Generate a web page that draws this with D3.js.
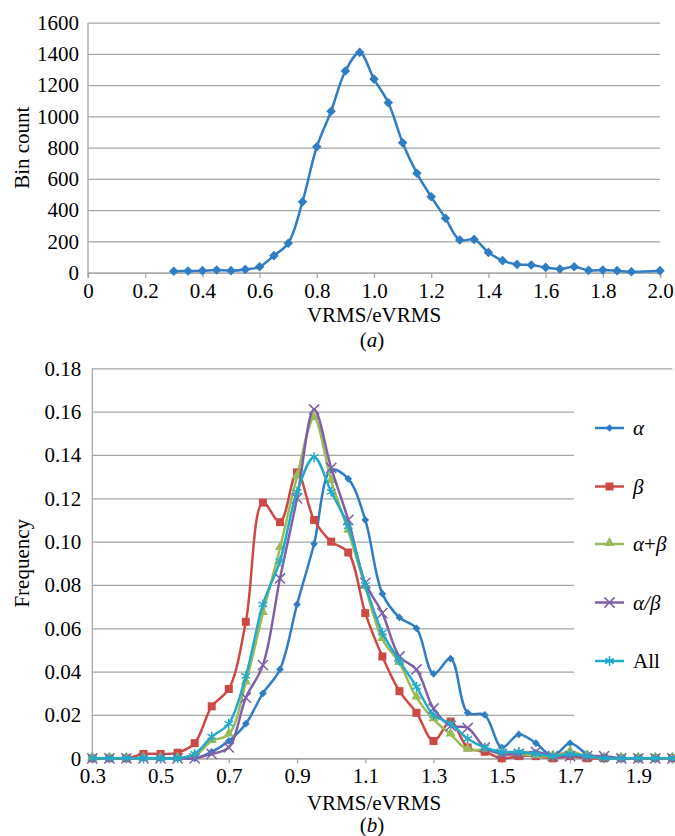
<!DOCTYPE html>
<html>
<head>
<meta charset="utf-8">
<script src="https://cdn.jsdelivr.net/npm/d3@7"></script>
<style>
  body { margin: 0; background: #fff; }
  text { font-family: "Liberation Serif", "Times New Roman", serif; fill: #000; }
</style>
</head>
<body>
<svg id="chart"></svg>
<script>
// ---- data: panel (a) ----
const binX = [0.3, 0.35, 0.4, 0.45, 0.5, 0.55, 0.6, 0.65, 0.7, 0.75, 0.8, 0.85, 0.9, 0.95, 1.0, 1.05, 1.1,
  1.15, 1.2, 1.25, 1.3, 1.35, 1.4, 1.45, 1.5, 1.55, 1.6, 1.65, 1.7, 1.75, 1.8, 1.85, 1.9, 2.0];
const binCount = [9, 11, 13, 17, 13, 21, 38, 109, 188, 454, 806, 1033, 1291, 1410, 1239, 1088, 832,
  636, 486, 348, 209, 213, 130, 77, 53, 49, 34, 23, 38, 15, 17, 13, 6, 13];
const topXTicks = [0, 0.2, 0.4, 0.6, 0.8, 1.0, 1.2, 1.4, 1.6, 1.8, 2.0];
const topXLabels = ["0", "0.2", "0.4", "0.6", "0.8", "1.0", "1.2", "1.4", "1.6", "1.8", "2.0"];
const topYTicks = [0, 200, 400, 600, 800, 1000, 1200, 1400, 1600];

// ---- data: panel (b) ----
const categories = [0.3, 0.35, 0.4, 0.45, 0.5, 0.55, 0.6, 0.65, 0.7, 0.75, 0.8, 0.85, 0.9, 0.95, 1.0,
  1.05, 1.1, 1.15, 1.2, 1.25, 1.3, 1.35, 1.4, 1.45, 1.5, 1.55, 1.6, 1.65, 1.7, 1.75, 1.8, 1.85, 1.9, 1.95, 2.0];
const alpha = [0, 0, 0, 0, 0, 0, 0, 0.003, 0.008, 0.016, 0.030, 0.041, 0.071, 0.099, 0.133,
  0.129, 0.110, 0.076, 0.065, 0.060, 0.039, 0.046, 0.021, 0.020, 0.005, 0.011, 0.007, 0.001, 0.007, 0.002, 0, 0, 0, 0, 0];
const beta = [0, 0, 0, 0.002, 0.002, 0.0026, 0.007, 0.024, 0.032, 0.063, 0.118, 0.109, 0.132, 0.110, 0.100,
  0.095, 0.067, 0.047, 0.031, 0.021, 0.008, 0.017, 0.005, 0.003, 0, 0.001, 0.001, 0, 0.001, 0, 0, 0, 0, 0, 0];
const alphaPlusBeta = [0, 0, 0, 0, 0, 0, 0.001, 0.008, 0.011, 0.035, 0.067, 0.097, 0.130, 0.157, 0.128,
  0.105, 0.079, 0.055, 0.044, 0.028, 0.018, 0.011, 0.004, 0.004, 0.002, 0.002, 0.001, 0.001, 0.003, 0.001, 0, 0, 0, 0, 0];
const alphaOverBeta = [0, 0, 0, 0, 0, 0, 0, 0.002, 0.005, 0.028, 0.043, 0.083, 0.120, 0.161, 0.134,
  0.110, 0.081, 0.067, 0.047, 0.041, 0.023, 0.015, 0.014, 0.005, 0.002, 0.002, 0.003, 0.001, 0.001, 0.001, 0.001, 0, 0, 0, 0];
const allSeries = [0, 0, 0, 0, 0, 0, 0.002, 0.010, 0.016, 0.038, 0.071, 0.091, 0.123, 0.139, 0.123,
  0.107, 0.080, 0.058, 0.045, 0.033, 0.020, 0.016, 0.009, 0.005, 0.003, 0.003, 0.002, 0.001, 0.002, 0.001, 0, 0, 0, 0, 0];
const botXTicks = [0.3, 0.5, 0.7, 0.9, 1.1, 1.3, 1.5, 1.7, 1.9];
const botXLabels = ["0.3", "0.5", "0.7", "0.9", "1.1", "1.3", "1.5", "1.7", "1.9"];
const botYTicks = [0, 0.02, 0.04, 0.06, 0.08, 0.10, 0.12, 0.14, 0.16, 0.18];
const botYLabels = ["0", "0.02", "0.04", "0.06", "0.08", "0.10", "0.12", "0.14", "0.16", "0.18"];

const seriesNames = ["α", "β", "α+β", "α/β", "All"];

const width = 675, height = 836;
const gridColor = "#a6a6a6";
const fontSize = 21;

const svg = d3.select("#chart").attr("width", width).attr("height", height);

const curve = d3.curveCatmullRom.alpha(0.5);

const marker = (type, size) => d3.symbol().type(type).size(size)();

// =============================== //
// -->        Panel (a)       <--  //
// =============================== //

const xA = d3.scaleLinear().domain([0, 2]).range([88, 660]);
const yA = d3.scaleLinear().domain([0, 1600]).range([272.7, 22.7]);

const gA = svg.append("g");

gA.append("g")
  .attr("transform", `translate(${xA(0)},0)`)
  .call(d3.axisLeft(yA).tickValues(topYTicks).tickSize(xA(0) - xA(2)).tickPadding(9).tickFormat(d3.format("d")))
  .call((g) => g.select(".domain").remove())
  .call((g) => g.selectAll(".tick line").attr("stroke", gridColor).attr("stroke-width", 1.3))
  .call((g) => g.selectAll(".tick text").attr("x", -9).attr("font-size", fontSize).style("font-family", "Liberation Serif"));

gA.append("line")
  .attr("x1", xA(0)).attr("x2", xA(0)).attr("y1", yA(1600)).attr("y2", yA(0) + 5)
  .attr("stroke", gridColor).attr("stroke-width", 1.3);

gA.append("g")
  .attr("transform", `translate(0,${yA(0)})`)
  .call(d3.axisBottom(xA).tickValues(topXTicks).tickSize(5).tickPadding(5)
    .tickFormat((d, i) => topXLabels[i]))
  .call((g) => g.select(".domain").attr("stroke", gridColor).attr("stroke-width", 1.3))
  .call((g) => g.selectAll(".tick line").attr("stroke", gridColor).attr("stroke-width", 1.3))
  .call((g) => g.selectAll(".tick text").attr("font-size", fontSize).style("font-family", "Liberation Serif"));

const blue = "#2f7ec3";

gA.append("path")
  .datum(binX.map((d, i) => [d, binCount[i]]))
  .attr("d", d3.line().x((d) => xA(d[0])).y((d) => yA(d[1])).curve(curve))
  .attr("fill", "none")
  .attr("stroke", blue)
  .attr("stroke-width", 2.5);

// diamond = square turned 45deg
gA.selectAll("path.pt")
  .data(binX.map((d, i) => [d, binCount[i]]))
  .join("path")
  .attr("class", "pt")
  .attr("d", marker(d3.symbolSquare, 46))
  .attr("fill", blue)
  .attr("transform", (d) => `translate(${xA(d[0])},${yA(d[1])}) rotate(45)`);

gA.append("text")
  .attr("transform", `translate(24,${(yA(0) + yA(1600)) / 2}) rotate(-90)`)
  .attr("text-anchor", "middle")
  .attr("dominant-baseline", "middle")
  .attr("font-size", fontSize)
  .text("Bin count");

gA.append("text")
  .attr("x", 374).attr("y", 322)
  .attr("text-anchor", "middle")
  .attr("font-size", fontSize)
  .text("VRMS/eVRMS");

const capA = gA.append("text").attr("x", 372).attr("y", 347).attr("text-anchor", "middle").attr("font-size", fontSize);
capA.append("tspan").text("(");
capA.append("tspan").attr("font-style", "italic").text("a");
capA.append("tspan").text(")");

// =============================== //
// -->        Panel (b)       <--  //
// =============================== //

const xB = d3.scaleLinear().domain([0.3, 2.0]).range([92.3, 672.4]);
const yB = d3.scaleLinear().domain([0, 0.18]).range([758.3, 368.3]);

const gB = svg.append("g");

gB.append("g")
  .attr("transform", `translate(${xB(0.3)},0)`)
  .call(d3.axisLeft(yB).tickValues(botYTicks).tickSize(xB(0.3) - xB(2.0)).tickPadding(9)
    .tickFormat((d, i) => botYLabels[i]))
  .call((g) => g.select(".domain").remove())
  .call((g) => g.selectAll(".tick line").attr("stroke", gridColor).attr("stroke-width", 1.3))
  .call((g) => g.selectAll(".tick text").attr("x", -11).attr("font-size", fontSize).style("font-family", "Liberation Serif"));

gB.append("line")
  .attr("x1", xB(0.3)).attr("x2", xB(0.3)).attr("y1", yB(0.18)).attr("y2", yB(0))
  .attr("stroke", gridColor).attr("stroke-width", 1.3);

gB.append("g")
  .attr("transform", `translate(0,${yB(0)})`)
  .call(d3.axisBottom(xB).tickValues(botXTicks).tickSize(5).tickPadding(5)
    .tickFormat((d, i) => botXLabels[i]))
  .call((g) => g.select(".domain").attr("stroke", gridColor).attr("stroke-width", 1.3))
  .call((g) => g.selectAll(".tick line").attr("stroke", gridColor).attr("stroke-width", 1.3))
  .call((g) => g.selectAll(".tick text").attr("font-size", fontSize).style("font-family", "Liberation Serif"));

// legend box sits over the grid
gB.append("rect")
  .attr("x", 574).attr("y", 390).attr("width", 101).attr("height", 340)
  .attr("fill", "#fff");

const series = [
  { name: seriesNames[0], values: alpha, color: "#2f7ec3", type: "diamond" },
  { name: seriesNames[1], values: beta, color: "#cc4a43", type: "square" },
  { name: seriesNames[2], values: alphaPlusBeta, color: "#9bbb59", type: "triangle" },
  { name: seriesNames[3], values: alphaOverBeta, color: "#7e60a8", type: "times" },
  { name: seriesNames[4], values: allSeries, color: "#23aac7", type: "asterisk" },
];

const drawMarker = (sel, s) => {
  if (s.type === "diamond") {
    sel.attr("d", marker(d3.symbolSquare, 30)).attr("fill", s.color)
      .attr("transform", (d) => `translate(${d[0]},${d[1]}) rotate(45)`);
  } else if (s.type === "square") {
    sel.attr("d", marker(d3.symbolSquare, 64)).attr("fill", s.color)
      .attr("transform", (d) => `translate(${d[0]},${d[1]})`);
  } else if (s.type === "triangle") {
    sel.attr("d", marker(d3.symbolTriangle, 45)).attr("fill", s.color)
      .attr("transform", (d) => `translate(${d[0]},${d[1] - 1})`);
  } else if (s.type === "times") {
    sel.attr("d", marker(d3.symbolTimes, 70)).attr("fill", "none").attr("stroke", s.color).attr("stroke-width", 1.5)
      .attr("transform", (d) => `translate(${d[0]},${d[1]})`);
  } else {
    sel.attr("d", marker(d3.symbolAsterisk, 70)).attr("fill", "none").attr("stroke", s.color).attr("stroke-width", 1.5)
      .attr("transform", (d) => `translate(${d[0]},${d[1]})`);
  }
};

const lineB = d3.line().x((d) => xB(d[0])).y((d) => yB(d[1])).curve(curve);

series.forEach((s) => {
  const pts = categories.map((c, i) => [c, s.values[i]]);
  gB.append("path")
    .datum(pts)
    .attr("d", lineB)
    .attr("fill", "none")
    .attr("stroke", s.color)
    .attr("stroke-width", 2.5);

  gB.append("g")
    .selectAll("path")
    .data(pts.map((p) => [xB(p[0]), yB(p[1])]))
    .join("path")
    .call(drawMarker, s);
});

// legend
const legendY = [428, 486.5, 544, 602.5, 661];
series.forEach((s, i) => {
  const lg = gB.append("g").attr("transform", `translate(0,${legendY[i]})`);
  lg.append("line").attr("x1", 595).attr("x2", 624).attr("y1", 0).attr("y2", 0)
    .attr("stroke", s.color).attr("stroke-width", 2.5);
  lg.append("path").datum([609.5, 0]).call(drawMarker, s);
  const t = lg.append("text").attr("x", 633).attr("y", 7).attr("font-size", fontSize);
  if (s.name === "All") {
    t.text("All");
  } else {
    s.name.split("").forEach((ch) => {
      t.append("tspan").attr("font-style", ch === "+" ? "normal" : "italic").text(ch);
    });
  }
});

gB.append("text")
  .attr("transform", `translate(24,${(yB(0) + yB(0.18)) / 2}) rotate(-90)`)
  .attr("text-anchor", "middle")
  .attr("dominant-baseline", "middle")
  .attr("font-size", fontSize)
  .text("Frequency");

gB.append("text")
  .attr("x", 374).attr("y", 810)
  .attr("text-anchor", "middle")
  .attr("font-size", fontSize)
  .text("VRMS/eVRMS");

const capB = gB.append("text").attr("x", 372).attr("y", 832).attr("text-anchor", "middle").attr("font-size", fontSize);
capB.append("tspan").text("(");
capB.append("tspan").attr("font-style", "italic").text("b");
capB.append("tspan").text(")");
</script>
</body>
</html>
